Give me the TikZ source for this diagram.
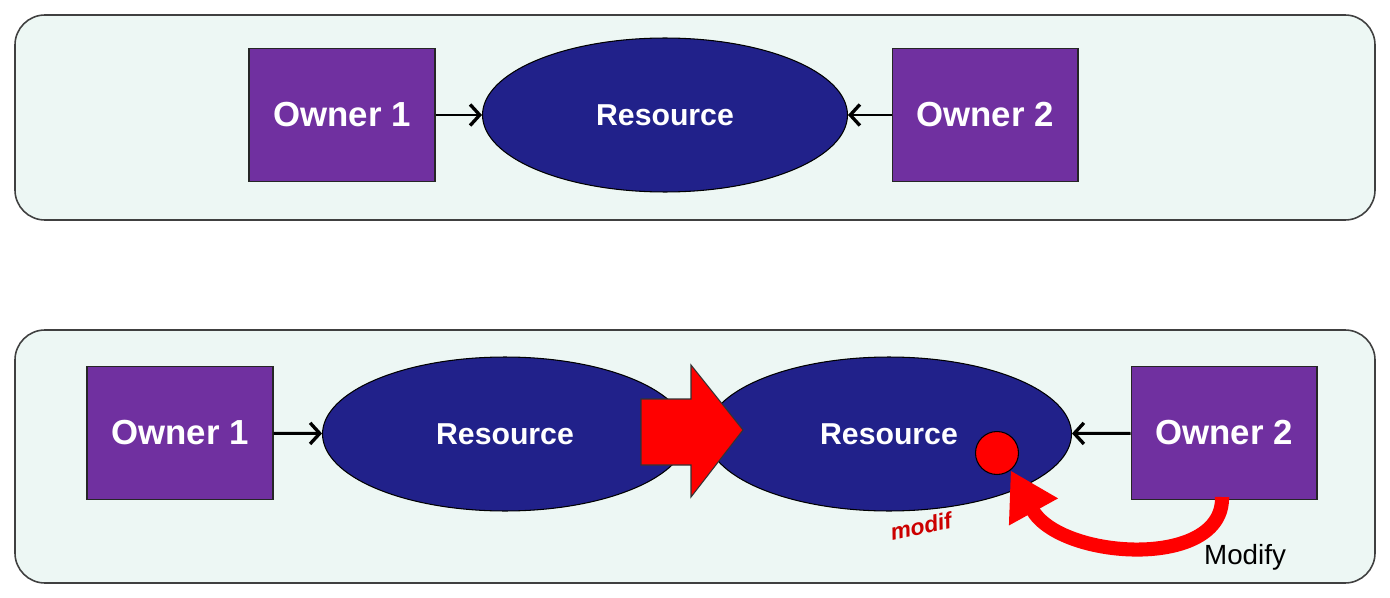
\documentclass[tikz,border=0pt]{standalone}
\usepackage{fontspec}
\setmainfont{Liberation Sans}
\definecolor{OwnPurple}{RGB}{112,48,160}
\definecolor{ResNavy}{RGB}{33,33,138}
\definecolor{PanelTint}{RGB}{237,247,244}
\definecolor{HotRed}{RGB}{255,0,0}
\usetikzlibrary{
    shapes.geometric,
    arrows.meta,
    positioning,
}

\begin{document}
\begin{tikzpicture}[x=0.02cm, y=-0.02cm,
        panel/.style={draw=black!75, line width=0.9pt, fill=PanelTint, rounded corners=0.6cm},
        owner/.style={draw=black!85, line width=0.6pt, fill=OwnPurple, text=white,
            minimum width=3.72cm, minimum height=2.66cm, inner sep=0pt,
            font=\fontsize{19.8}{24}\selectfont\bfseries},
        res/.style={ellipse, draw=black, line width=0.6pt, fill=ResNavy, text=white,
            minimum width=7.3cm, minimum height=3.08cm, inner sep=0pt,
            font=\fontsize{17.2}{20}\selectfont\bfseries},
        conn/.style={-{Straight Barb[length=5.5pt, width=12pt, line width=1.9pt]}, line width=1.7pt},
    ]
        \useasboundingbox (0,0) rectangle (1390,598);
        % top panel
        \draw[panel] (15,15) rectangle (1375,220);
        \node[owner] (owna) at (342,115) {Owner 1};
        \node[res] (resa) at (665,115) {Resource};
        \node[owner] (ownb) at (985,115) {Owner 2};
        \draw[conn] (owna) -- (resa);
        \draw[conn] (ownb) -- (resa);
        % bottom panel
        \draw[panel] (15,330) rectangle (1375,583);
        \node[owner] (ownc) at (180,433) {Owner 1};
        \node[res] (resb) at (505,434) {Resource};
        \node[res] (resc) at (889,434) {Resource};
        \node[owner] (ownd) at (1224,433) {Owner 2};
        \draw[conn] (ownc) -- (resb);
        \draw[conn] (ownd) -- (resc);
        \draw[fill=HotRed, draw=black!80, line width=0.6pt]
            (641,399) -- (691,399) -- (691,365) -- (743,430) -- (691,497) -- (691,465) -- (641,465) -- cycle;
        \node[circle, fill=HotRed, draw=black, line width=0.6pt, minimum size=0.86cm, inner sep=0pt] (dot) at (997,453) {};
        \draw[HotRed, line width=8pt, -{Triangle[length=0.95cm, width=1.05cm]}]
            (1222,497) .. controls (1224,570) and (1060,560) .. (dot.-52);
        \node[font=\fontsize{15.8}{18}\selectfont] (mod) at (1245,557) {Modify};
        \node[font=\fontsize{13}{13}\selectfont\itshape\bfseries, text=HotRed!80!black, rotate=12] (scrib) at (921,526) {modif};
    \end{tikzpicture}
\end{document}
